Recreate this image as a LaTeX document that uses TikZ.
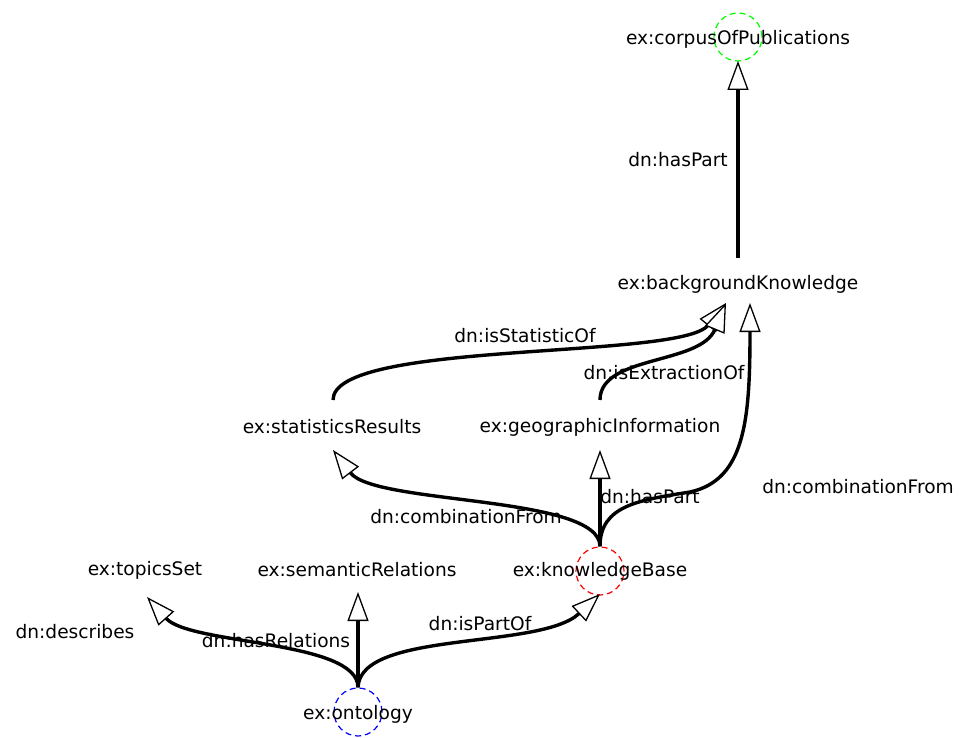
\documentclass[tikz,border=0pt]{standalone}
\usepackage{fontspec}
\setmainfont{DejaVu Sans}
\usetikzlibrary{arrows.meta}
\begin{document}
\begin{tikzpicture}[x={(1pt,0)},y={(0,-1pt)},
  lbl/.style={inner sep=0pt,font=\fontsize{18.6}{22}\selectfont},
  ring/.style={draw=#1,circle,minimum size=48pt,inner sep=0pt,line width=1.2pt,dash pattern=on 6pt off 4pt},
  edge/.style={line width=3.4pt,-{Triangle[length=29pt,width=21pt,fill=white,line width=1.3pt]}}]
\useasboundingbox (0,0) rectangle (963,738);
% circles
\node[ring=green] (ccorpus) at (738,37) {};
\node[ring=red] (ckb) at (600,571) {};
\node[ring=blue] (contology) at (358,712) {};
% nodes
\node[lbl] (corpus) at (738,39) {ex:corpusOfPublications};
\node[lbl] (bk) at (738,284) {ex:backgroundKnowledge};
\node[lbl] (stat) at (332,427) {ex:statisticsResults};
\node[lbl] (geo) at (600,427) {ex:geographicInformation};
\node[lbl] (kb) at (600,571) {ex:knowledgeBase};
\node[lbl] (topics) at (145,570) {ex:topicsSet};
\node[lbl] (sem) at (357,570) {ex:semanticRelations};
\node[lbl] (ont) at (358,714) {ex:ontology};
% tip coordinates
\coordinate (bkfoot) at (738,258);
\coordinate (corpustip) at (738,61);
\coordinate (bktipA) at (726,303);
\coordinate (bktipB) at (750,303);
\coordinate (stattip) at (333,450);
\coordinate (geotip) at (600,450);
\coordinate (stattop) at (333,400);
\coordinate (geotop) at (600,400);
\coordinate (topicstip) at (147,597);
\coordinate (semtip) at (358,592);
\coordinate (kbtip) at (600,594);
% edges
\draw[edge] (bkfoot) -- (corpustip);
\draw[edge] (stattop) .. controls (333,340) and (680,360) .. (bktipA);
\draw[edge] (geotop) .. controls (600,355) and (700,365) .. (bktipA);
\draw[edge] (ckb.north) .. controls (600,495) and (375,505) .. (stattip);
\draw[edge] (ckb.north) -- (geotip);
\draw[edge] (ckb.north) .. controls (600,505) and (640,500) .. (690,492) .. controls (745,480) and (750,420) .. (bktipB);
\draw[edge] (contology.north) .. controls (358,640) and (190,645) .. (topicstip);
\draw[edge] (contology.north) -- (semtip);
\draw[edge] (contology.north) .. controls (360,630) and (540,650) .. (kbtip);
% edge labels
\node[lbl] (l1) at (678,160) {dn:hasPart};
\node[lbl] (l2) at (525,336) {dn:isStatisticOf};
\node[lbl] (l3) at (664,373) {dn:isExtractionOf};
\node[lbl] (l4) at (858,487) {dn:combinationFrom};
\node[lbl] (l5) at (650,497) {dn:hasPart};
\node[lbl] (l6) at (466,517) {dn:combinationFrom};
\node[lbl] (l7) at (75,632) {dn:describes};
\node[lbl] (l8) at (276,641) {dn:hasRelations};
\node[lbl] (l9) at (480,624) {dn:isPartOf};
\end{tikzpicture}
\end{document}
